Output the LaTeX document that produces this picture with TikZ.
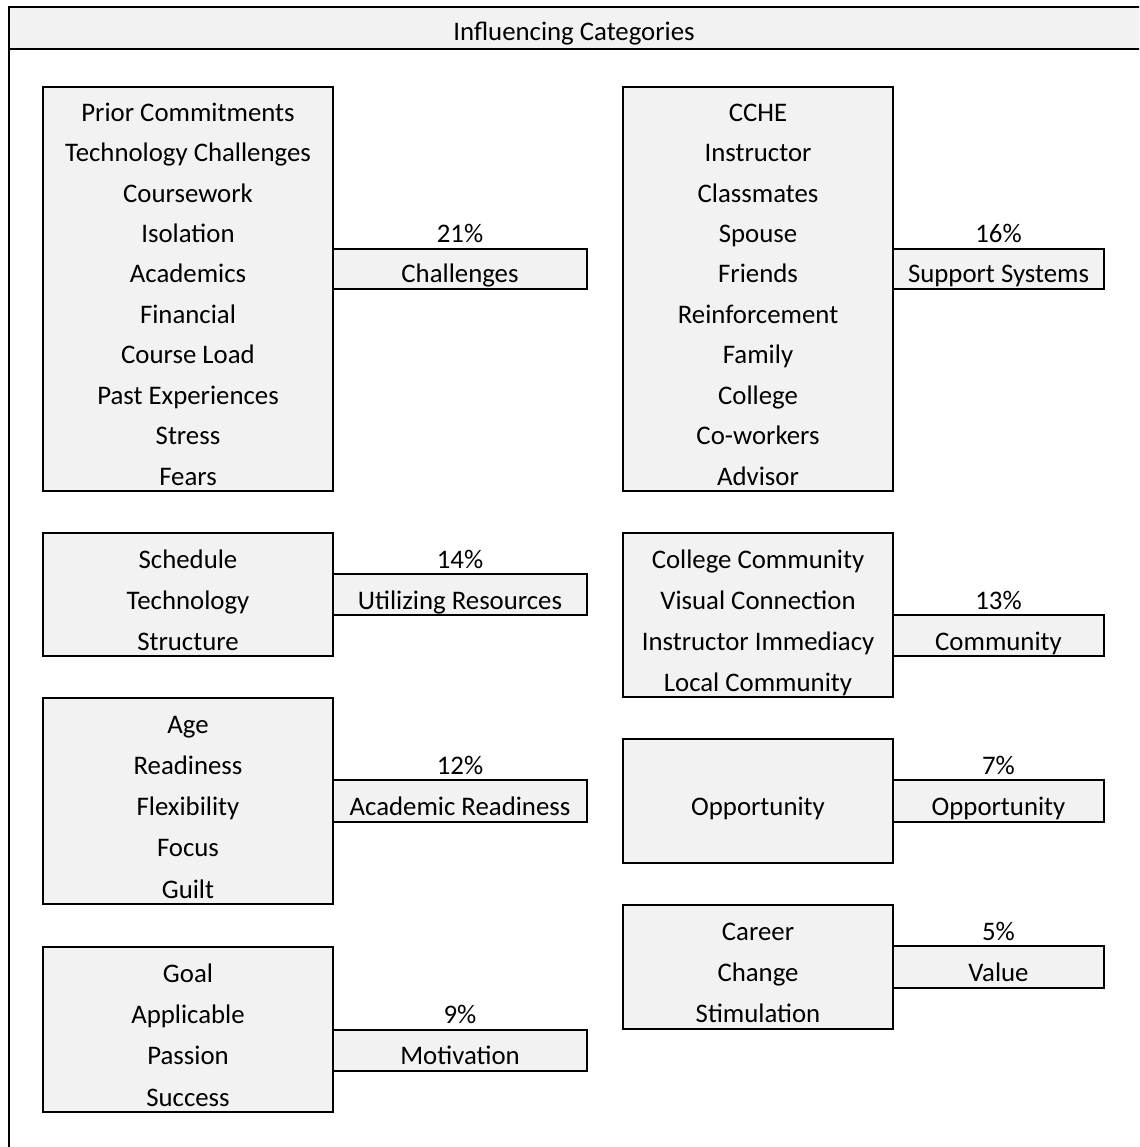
\documentclass[tikz,border=0pt]{standalone}
\usepackage{fontspec}
\setmainfont{Carlito}
\usetikzlibrary{positioning}
\definecolor{cellgray}{HTML}{F2F2F2}
\tikzset{
  cellbox/.style={draw, line width=2pt, fill=cellgray},
  entry/.style={anchor=base, inner sep=0pt, font=\fontsize{26.8}{30}\selectfont},
}
\begin{document}
\begin{tikzpicture}[x=1pt,y=-1pt]
        \useasboundingbox (0,0) rectangle (1139,1147);
        \clip (0,0) rectangle (1139,1147);
        %% frame and title
        \draw[cellbox, line width=2.5pt] (9,7) rectangle (1160,49);
        \draw[line width=2.5pt] (9,7) -- (9,1160);
        \node[entry] (title) at (574,41) {Influencing Categories};
        %% challenges
        \draw[cellbox] (43,87) rectangle (333,491);
        \foreach \txt [count=\i] in {Prior Commitments, Technology Challenges, Coursework, Isolation, Academics, Financial, Course Load, Past Experiences, Stress, Fears}
          \node[entry] (chal-\i) at (188,{87+40.4*\i-6}) {\txt};
        \draw[cellbox] (333,248.6) rectangle (587,289);
        \node[entry] (chal) at (460,283) {Challenges};
        \node[entry] (chal-pct) at (460,242.6) {21\%};
        %% support systems
        \draw[cellbox] (623,87) rectangle (893,491);
        \foreach \txt [count=\i] in {CCHE, Instructor, Classmates, Spouse, Friends, Reinforcement, Family, College, Co-workers, Advisor}
          \node[entry] (supp-\i) at (758,{87+40.4*\i-6}) {\txt};
        \draw[cellbox] (893,248.6) rectangle (1104,289);
        \node[entry] (supp) at (998.5,283) {Support Systems};
        \node[entry] (supp-pct) at (998.5,242.6) {16\%};
        %% utilizing resources
        \draw[cellbox] (43,533) rectangle (333,656);
        \foreach \txt [count=\i] in {Schedule, Technology, Structure}
          \node[entry] (util-\i) at (188,{533+41*\i-6}) {\txt};
        \draw[cellbox] (333,574) rectangle (587,615);
        \node[entry] (util) at (460,609) {Utilizing Resources};
        \node[entry] (util-pct) at (460,568) {14\%};
        %% community
        \draw[cellbox] (623,533) rectangle (893,697);
        \foreach \txt [count=\i] in {College Community, Visual Connection, Instructor Immediacy, Local Community}
          \node[entry] (comm-\i) at (758,{533+41*\i-6}) {\txt};
        \draw[cellbox] (893,615) rectangle (1104,656);
        \node[entry] (comm) at (998.5,650) {Community};
        \node[entry] (comm-pct) at (998.5,609) {13\%};
        %% academic readiness
        \draw[cellbox] (43,698) rectangle (333,904);
        \foreach \txt [count=\i] in {Age, Readiness, Flexibility, Focus, Guilt}
          \node[entry] (read-\i) at (188,{698+41.2*\i-6}) {\txt};
        \draw[cellbox] (333,780.4) rectangle (587,821.6);
        \node[entry] (read) at (460,815.6) {Academic Readiness};
        \node[entry] (read-pct) at (460,774.4) {12\%};
        %% opportunity
        \draw[cellbox] (623,739.2) rectangle (893,862.8);
        \node[entry] (oppo-1) at (758,815.6) {Opportunity};
        \draw[cellbox] (893,780.4) rectangle (1104,821.6);
        \node[entry] (oppo) at (998.5,815.6) {Opportunity};
        \node[entry] (oppo-pct) at (998.5,774.4) {7\%};
        %% value
        \draw[cellbox] (623,905) rectangle (893,1029);
        \foreach \txt [count=\i] in {Career, Change, Stimulation}
          \node[entry] (valu-\i) at (758,{905+41.3*\i-6}) {\txt};
        \draw[cellbox] (893,946.3) rectangle (1104,987.6);
        \node[entry] (valu) at (998.5,981.6) {Value};
        \node[entry] (valu-pct) at (998.5,940.3) {5\%};
        %% motivation
        \draw[cellbox] (43,947) rectangle (333,1112);
        \foreach \txt [count=\i] in {Goal, Applicable, Passion, Success}
          \node[entry] (moti-\i) at (188,{947+41.25*\i-6}) {\txt};
        \draw[cellbox] (333,1029.5) rectangle (587,1070.75);
        \node[entry] (moti) at (460,1064.75) {Motivation};
        \node[entry] (moti-pct) at (460,1023.5) {9\%};
    \end{tikzpicture}
\end{document}
